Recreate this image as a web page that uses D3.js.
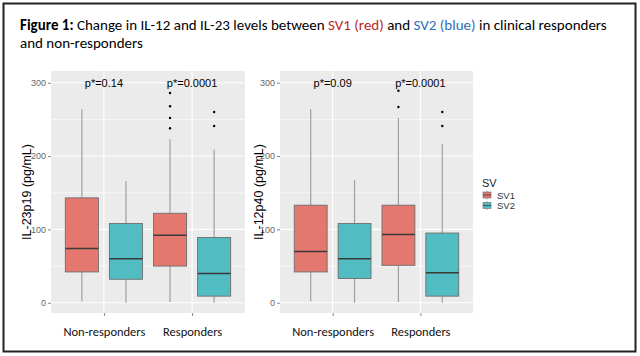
<!DOCTYPE html>
<html><head><meta charset="utf-8">
<script src="https://cdn.jsdelivr.net/npm/d3@7"></script>
<style>html,body{margin:0;padding:0;background:#fff;}svg{display:block;}</style>
</head><body>
<svg id="chart" width="640" height="356"></svg>
<script>
// ---------- data ----------
const categories = ["Non-responders", "Responders"];
const groups = ["SV1", "SV2"];
const groupColors = ["#E5786E", "#52BCC3"];
const yTicks = [0, 100, 200, 300];
const yMinorTicks = [50, 150, 250];

// IL-23p19 — order per category: SV1, SV2
const p19Min    = [[2, 0], [1, 0]];
const p19Q1     = [[42, 32], [50, 9]];
const p19Median = [[74, 60], [92, 40]];
const p19Q3     = [[143, 108], [122, 89]];
const p19Max    = [[264, 166], [223, 209]];
const p19Outliers = [[[], []], [[286, 268, 252, 238], [260, 241]]];
const p19PLabels = ["p*=0.14", "p*=0.0001"];

// IL-12p40
const p40Min    = [[2, 0], [1, 0]];
const p40Q1     = [[42, 33], [51, 9]];
const p40Median = [[70, 60], [93, 41]];
const p40Q3     = [[133, 108], [133, 95]];
const p40Max    = [[264, 167], [252, 216]];
const p40Outliers = [[[], []], [[289, 267], [260, 241]]];
const p40PLabels = ["p*=0.09", "p*=0.0001"];

const panels = [
  {title: "IL-23p19 (pg/mL)", min: p19Min, q1: p19Q1, med: p19Median, q3: p19Q3, max: p19Max, out: p19Outliers, p: p19PLabels, x0: 51, x1: 245, titleX: 31},
  {title: "IL-12p40 (pg/mL)", min: p40Min, q1: p40Q1, med: p40Median, q3: p40Q3, max: p40Max, out: p40Outliers, p: p40PLabels, x0: 280, x1: 473, titleX: 263}
];

// ---------- drawing ----------
const svg = d3.select("#chart");
svg.append("rect").attr("width", 640).attr("height", 356).attr("fill", "#fff");
svg.append("rect").attr("x", 3.5).attr("y", 3.5).attr("width", 632).attr("height", 348)
  .attr("fill", "none").attr("stroke", "#222").attr("stroke-width", 2);

// Title
const titleFont = "Carlito, Lato, 'Open Sans', sans-serif";
const t1 = svg.append("text").attr("x", 20).attr("y", 30).attr("font-family", titleFont)
  .attr("font-size", 15).attr("fill", "#000");
t1.append("tspan").attr("font-weight", "bold").text("Figure 1:");
t1.append("tspan").text(" Change in IL-12 and IL-23 levels between ");
t1.append("tspan").attr("fill", "#C0271E").text("SV1 (red)");
t1.append("tspan").text(" and ");
t1.append("tspan").attr("fill", "#2E6DB8").text("SV2 (blue)");
t1.append("tspan").text(" in clinical responders");
svg.append("text").attr("x", 20).attr("y", 48).attr("font-family", titleFont)
  .attr("font-size", 15).attr("fill", "#000").text("and non-responders");

const y = d3.scaleLinear().domain([-14, 316]).range([313, 71]);
const axisFont = "'Liberation Sans', Arial, sans-serif";

panels.forEach(pn => {
  const x = d3.scaleLinear().domain([0.4, 2.6]).range([pn.x0, pn.x1]);
  const catX = i => x(i + 1);
  const g = svg.append("g");
  g.append("rect").attr("x", pn.x0).attr("y", 71).attr("width", pn.x1 - pn.x0).attr("height", 242)
    .attr("fill", "#EBEBEB");
  // grid
  g.selectAll(".minor").data(yMinorTicks).join("line")
    .attr("x1", pn.x0).attr("x2", pn.x1).attr("y1", d => y(d)).attr("y2", d => y(d))
    .attr("stroke", "#fff").attr("stroke-width", 0.6);
  g.selectAll(".major").data(yTicks).join("line")
    .attr("x1", pn.x0).attr("x2", pn.x1).attr("y1", d => y(d)).attr("y2", d => y(d))
    .attr("stroke", "#fff").attr("stroke-width", 1.1);
  g.selectAll(".vmajor").data(categories).join("line")
    .attr("x1", (d, i) => catX(i)).attr("x2", (d, i) => catX(i)).attr("y1", 71).attr("y2", 313)
    .attr("stroke", "#fff").attr("stroke-width", 1.1);

  // y axis
  const yAxis = d3.axisLeft(y).tickValues(yTicks).tickSize(3).tickPadding(2);
  const ya = g.append("g").attr("transform", `translate(${pn.x0},0)`).call(yAxis);
  ya.select(".domain").remove();
  ya.selectAll("line").attr("stroke", "#888");
  ya.selectAll("text").attr("font-family", axisFont).attr("font-size", 9).attr("fill", "#666");

  // x axis
  const xAxis = d3.axisBottom(x).tickValues([1, 2]).tickFormat((d, i) => categories[i]).tickSize(3).tickPadding(11);
  const xa = g.append("g").attr("transform", "translate(0,313)").call(xAxis);
  xa.select(".domain").remove();
  xa.selectAll("line").attr("stroke", "#888");
  xa.selectAll("text").attr("font-family", titleFont).attr("font-size", 12.5).attr("fill", "#111");

  // y title
  g.append("text").attr("transform", `translate(${pn.titleX},${(71 + 313) / 2}) rotate(-90)`)
    .attr("text-anchor", "middle").attr("font-family", axisFont).attr("font-size", 12.5)
    .attr("fill", "#000").text(pn.title);

  // boxes
  const boxW = x(0.375) - x(0);
  const off = x(0.25) - x(0);
  categories.forEach((c, ci) => {
    groups.forEach((gr, gi) => {
      const cx = catX(ci) + (gi === 0 ? -off : off);
      g.append("line").attr("x1", cx).attr("x2", cx).attr("y1", y(pn.max[ci][gi])).attr("y2", y(pn.q3[ci][gi]))
        .attr("stroke", "#A0A0A0").attr("stroke-width", 1.2);
      g.append("line").attr("x1", cx).attr("x2", cx).attr("y1", y(pn.q1[ci][gi])).attr("y2", y(pn.min[ci][gi]))
        .attr("stroke", "#A0A0A0").attr("stroke-width", 1.2);
      g.append("rect").attr("x", cx - boxW / 2).attr("y", y(pn.q3[ci][gi]))
        .attr("width", boxW).attr("height", y(pn.q1[ci][gi]) - y(pn.q3[ci][gi]))
        .attr("fill", groupColors[gi]).attr("stroke", "#6E6E6E").attr("stroke-width", 0.9);
      g.append("line").attr("x1", cx - boxW / 2).attr("x2", cx + boxW / 2)
        .attr("y1", y(pn.med[ci][gi])).attr("y2", y(pn.med[ci][gi]))
        .attr("stroke", "#3A3A3A").attr("stroke-width", 1.5);
      g.selectAll(null).data(pn.out[ci][gi]).join("circle")
        .attr("cx", cx).attr("cy", d => y(d)).attr("r", 1.2).attr("fill", "#000");
    });
    g.append("text").attr("x", catX(ci)).attr("y", 87).attr("text-anchor", "middle")
      .attr("font-family", axisFont).attr("font-size", 11).attr("fill", "#000").text(pn.p[ci]);
  });
});

// legend
const lg = svg.append("g");
lg.append("text").attr("x", 482).attr("y", 187).attr("font-family", axisFont).attr("font-size", 11)
  .attr("fill", "#222").text("SV");
groups.forEach((gr, i) => {
  const cy = 195 + i * 10.5;
  lg.append("line").attr("x1", 487).attr("x2", 487).attr("y1", cy - 4.5).attr("y2", cy + 4.5)
    .attr("stroke", "#A0A0A0").attr("stroke-width", 1);
  lg.append("rect").attr("x", 483).attr("y", cy - 3).attr("width", 8).attr("height", 6)
    .attr("fill", groupColors[i]).attr("stroke", "#6E6E6E").attr("stroke-width", 0.6);
  lg.append("line").attr("x1", 483).attr("x2", 491).attr("y1", cy).attr("y2", cy)
    .attr("stroke", "#3A3A3A").attr("stroke-width", 0.8);
  lg.append("text").attr("x", 497).attr("y", cy + 3.5).attr("font-family", axisFont).attr("font-size", 9.5)
    .attr("fill", "#333").text(gr);
});
</script>
</body></html>
